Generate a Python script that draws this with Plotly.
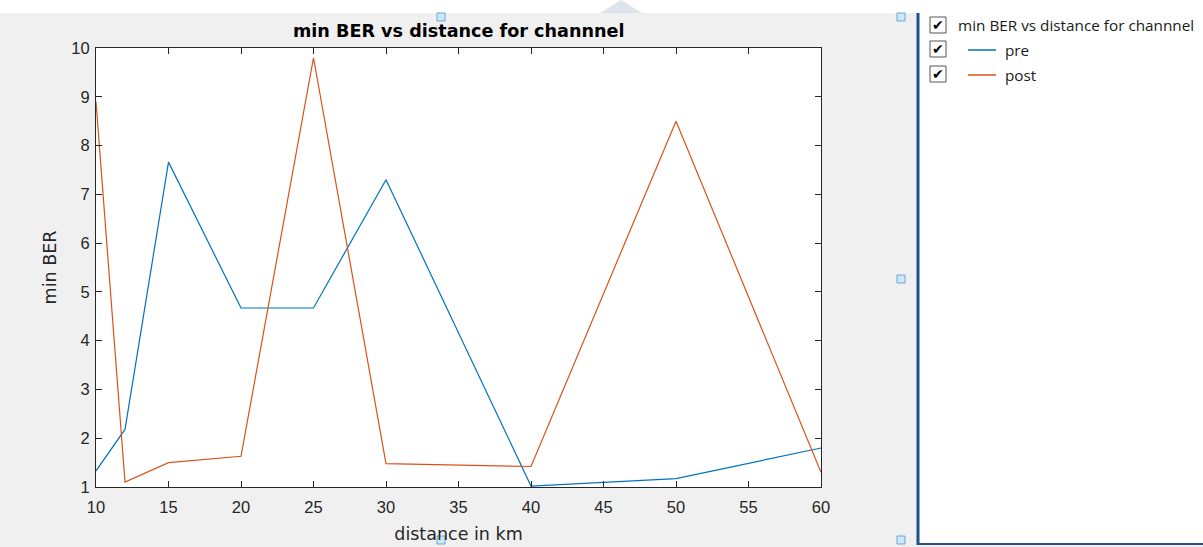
import plotly.graph_objects as go

distance = [10, 12, 15, 20, 25, 30, 40, 50, 60]
pre = [1.33, 2.18, 7.66, 4.67, 4.67, 7.3, 1.02, 1.17, 1.8]
post = [8.9, 1.1, 1.5, 1.63, 9.8, 1.48, 1.42, 8.5, 1.3]
x_ticks = [10, 15, 20, 25, 30, 35, 40, 45, 50, 55, 60]
y_ticks = [1, 2, 3, 4, 5, 6, 7, 8, 9, 10]

W, H = 1203, 547
L, R, T, B = 96, 821, 48, 487


def px(x):
    return (x - L) / (R - L)


def py(y):
    return (B - y) / (B - T)


fig = go.Figure()
fig.add_trace(go.Scatter(x=distance, y=pre, mode="lines", name="pre",
                         line=dict(color="#0072BD", width=1.2)))
fig.add_trace(go.Scatter(x=distance, y=post, mode="lines", name="post",
                         line=dict(color="#D95319", width=1.2)))

shapes = []
# white top strip and right panel
shapes.append(dict(type="rect", xref="paper", yref="paper", x0=px(-5), x1=px(W + 5),
                   y0=py(13), y1=py(-5), fillcolor="white", line_width=0, layer="below"))
shapes.append(dict(type="path", xref="paper", yref="paper",
                   path=f"M {px(600)} {py(13)} L {px(621)} {py(0)} L {px(642)} {py(13)} Z",
                   fillcolor="#dde3ea", line_width=0, layer="below"))
shapes.append(dict(type="rect", xref="paper", yref="paper", x0=px(918), x1=px(W + 5),
                   y0=py(545), y1=py(-5), fillcolor="white", line_width=0, layer="below"))
# panel border
shapes.append(dict(type="line", xref="paper", yref="paper", x0=px(918), x1=px(918),
                   y0=py(13), y1=py(545), line=dict(color="#1f4f8f", width=3)))
shapes.append(dict(type="line", xref="paper", yref="paper", x0=px(918), x1=px(W + 5),
                   y0=py(544), y1=py(544), line=dict(color="#1f4f8f", width=2)))
# selection handles
for hx, hy in [(901, 17), (901, 279), (901, 540), (441, 17), (441, 540)]:
    shapes.append(dict(type="rect", xref="paper", yref="paper", x0=px(hx - 4), x1=px(hx + 4),
                       y0=py(hy + 4), y1=py(hy - 4), fillcolor="#cfe6f7",
                       line=dict(color="#6aa6d6", width=1)))
# checkboxes
for cy in [25, 49, 74]:
    shapes.append(dict(type="rect", xref="paper", yref="paper", x0=px(930), x1=px(946),
                       y0=py(cy + 8), y1=py(cy - 8), fillcolor="white",
                       line=dict(color="#555555", width=1)))
# legend line samples
shapes.append(dict(type="line", xref="paper", yref="paper", x0=px(968), x1=px(996),
                   y0=py(50), y1=py(50), line=dict(color="#0072BD", width=1.5)))
shapes.append(dict(type="line", xref="paper", yref="paper", x0=px(968), x1=px(996),
                   y0=py(75), y1=py(75), line=dict(color="#D95319", width=1.5)))

annotations = []
for cy in [25, 49, 74]:
    annotations.append(dict(xref="paper", yref="paper", x=px(938), y=py(cy), text="<b>✔</b>",
                            showarrow=False, xanchor="center", yanchor="middle",
                            font=dict(family="DejaVu Sans", size=14, color="black")))
legend_texts = [("min BER vs distance for channnel", 956, 25),
                ("pre", 1003, 50), ("post", 1003, 75)]
for t, tx, ty in legend_texts:
    annotations.append(dict(xref="paper", yref="paper", x=px(tx), y=py(ty), text=t,
                            showarrow=False, xanchor="left", yanchor="middle",
                            font=dict(family="Open Sans", size=15.3, color="#1a1a1a")))
annotations.append(dict(xref="paper", yref="paper", x=0.5, y=py(31), text="<b>min BER vs distance for channnel</b>",
                        showarrow=False, xanchor="center", yanchor="middle",
                        font=dict(family="DejaVu Sans", size=17.6, color="black")))

fig.update_layout(
    width=W, height=H,
    margin=dict(l=L, r=W - R, t=T, b=H - B, pad=0),
    paper_bgcolor="#f0f0f0", plot_bgcolor="white",
    showlegend=False,
    shapes=shapes, annotations=annotations,
    font=dict(family="Liberation Sans", size=16, color="#262626"),
)
fig.update_xaxes(range=[10, 60], tickvals=x_ticks, ticks="inside", ticklen=6,
                 tickcolor="#262626", showline=True, linecolor="#262626", linewidth=1,
                 mirror="ticks", showgrid=False, zeroline=False, ticklabelstandoff=5,
                 automargin=False,
                 title=dict(text="distance in km", font=dict(family="DejaVu Sans", size=17.5), standoff=12),
                 tickfont=dict(size=16.5))
fig.update_yaxes(range=[1, 10], tickvals=y_ticks, ticks="inside", ticklen=6,
                 tickcolor="#262626", showline=True, linecolor="#262626", linewidth=1,
                 mirror="ticks", showgrid=False, zeroline=False, ticklabelstandoff=2,
                 automargin=False,
                 title=dict(text="min BER", font=dict(family="DejaVu Sans", size=17.5), standoff=10),
                 tickfont=dict(size=16.5))

fig.write_html("out.html", config={"displayModeBar": False},
               post_script="document.body.style.margin='0px';")
